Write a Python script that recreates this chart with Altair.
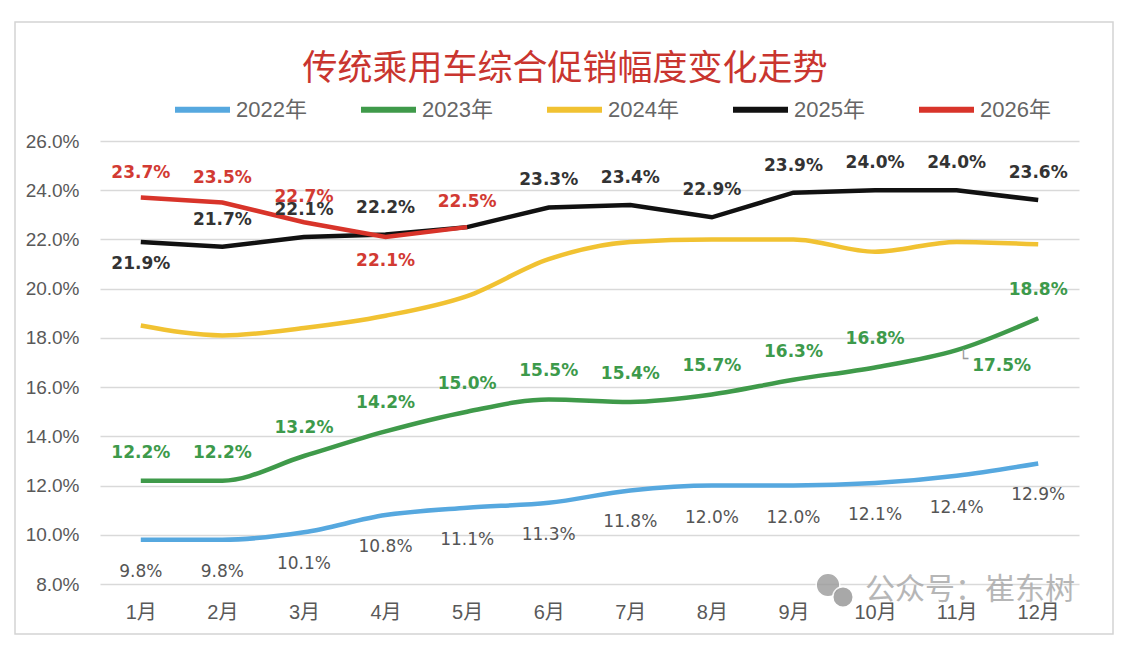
import altair as alt
import pandas as pd

months = ["1月", "2月", "3月", "4月", "5月", "6月", "7月", "8月", "9月", "10月", "11月", "12月"]
series = ["2022年", "2023年", "2024年", "2025年", "2026年"]
colors = ["#56a8df", "#3f9a4a", "#f1c232", "#111111", "#d8342a"]

v2022 = [9.8, 9.8, 10.1, 10.8, 11.1, 11.3, 11.8, 12.0, 12.0, 12.1, 12.4, 12.9]
v2023 = [12.2, 12.2, 13.2, 14.2, 15.0, 15.5, 15.4, 15.7, 16.3, 16.8, 17.5, 18.8]
v2024 = [18.5, 18.1, 18.4, 18.9, 19.7, 21.2, 21.9, 22.0, 22.0, 21.5, 21.9, 21.8]
v2025 = [21.9, 21.7, 22.1, 22.2, 22.5, 23.3, 23.4, 22.9, 23.9, 24.0, 24.0, 23.6]
v2026 = [23.7, 23.5, 22.7, 22.1, 22.5]

y_ticks = [8, 10, 12, 14, 16, 18, 20, 22, 24, 26]
title_text = "传统乘用车综合促销幅度变化走势"
watermark_text = "公众号：崔东树"

# label placement choices
below_2025 = ["1月"]
hidden_2025 = ["5月"]
below_2026 = ["4月"]
side_2023 = ["11月"]

values = {"2022年": v2022, "2023年": v2023, "2024年": v2024, "2025年": v2025, "2026年": v2026}
rows = []
for s in series:
    for m, v in zip(months, values[s]):
        rows.append({"month": m, "series": s, "value": v, "label": f"{v:.1f}%"})
df = pd.DataFrame(rows)

W, H = 979, 443

x_enc = alt.X("month:N", sort=months, scale=alt.Scale(type="point", padding=0.5),
              axis=alt.Axis(title=None, labelAngle=0, domain=False, ticks=False, grid=False,
                            labelPadding=18, labelFontSize=20, labelColor="#595959",
                            labelFont="Liberation Sans, Noto Sans CJK SC"))
y_enc = alt.Y("value:Q", scale=alt.Scale(domain=[8, 26], nice=False, zero=False),
              axis=alt.Axis(title=None, values=y_ticks, domain=False, ticks=False,
                            labelExpr="format(datum.value, '.1f') + '%'",
                            labelPadding=21, labelFontSize=19, labelColor="#595959",
                            labelFont="Liberation Sans", grid=True,
                            gridColor="#d9d9d9", gridWidth=1.5))

color_enc = alt.Color("series:N", scale=alt.Scale(domain=series, range=colors),
                      legend=alt.Legend(title=None, orient="none", legendX=72, legendY=-62,
                                        direction="horizontal", symbolType="stroke",
                                        symbolSize=3025, symbolStrokeWidth=6,
                                        labelFontSize=22, labelColor="#666666",
                                        labelFont="Liberation Sans, Noto Sans CJK SC",
                                        labelOffset=3, columnPadding=42, labelLimit=200))

def line(s, interp):
    return alt.Chart(df[df.series == s]).mark_line(strokeWidth=4.5, interpolate=interp).encode(
        x=x_enc, y=y_enc, color=color_enc)

lines = [line("2022年", "monotone"), line("2023年", "monotone"), line("2024年", "monotone"),
         line("2025年", "linear"), line("2026年", "linear")]

def labels(data, color, dy, dx=0, bold=True):
    return alt.Chart(data).mark_text(
        dy=dy, dx=dx, fontSize=17, font="DejaVu Sans", color=color,
        fontWeight="bold" if bold else "normal", baseline="middle").encode(
        x=x_enc, y=y_enc, text="label:N")

d22 = df[df.series == "2022年"]
d23 = df[df.series == "2023年"]
d25 = df[df.series == "2025年"]
d26 = df[df.series == "2026年"]

lab = [
    labels(d22, "#555555", 32, bold=False),
    labels(d23[~d23.month.isin(side_2023)], "#3d9a4b", -28),
    labels(d23[d23.month.isin(side_2023)], "#3d9a4b", 16, dx=45),
    alt.Chart(d23[d23.month.isin(side_2023)]).mark_text(
        text="└", dx=7, dy=9, fontSize=16, color="#999999", font="DejaVu Sans").encode(x=x_enc, y=y_enc),
    labels(d25[~d25.month.isin(below_2025 + hidden_2025)], "#333333", -27),
    labels(d25[d25.month.isin(below_2025)], "#333333", 22),
    labels(d26[~d26.month.isin(below_2026)], "#d23a33", -25),
    labels(d26[d26.month.isin(below_2026)], "#d23a33", 24),
]

one = pd.DataFrame({"a": [0]})
border = alt.Chart(one).mark_rect(
    fill=None, stroke="#d4d4d4", strokeWidth=1.5).encode(
    x=alt.value(-85), x2=alt.value(W + 34), y=alt.value(-119), y2=alt.value(H + 50))

title = alt.Chart(one).mark_text(
    text=title_text, fontSize=35, color="#c9352f", font="Noto Sans CJK SC",
    align="center", baseline="middle").encode(x=alt.value(465), y=alt.value(-72))

icon1 = alt.Chart(one).mark_circle(
    color="#9a9a9a", opacity=0.8, size=560, stroke="white", strokeWidth=1.5).encode(
    x=alt.value(728), y=alt.value(444))
icon2 = alt.Chart(one).mark_circle(
    color="#9a9a9a", opacity=0.85, size=420, stroke="white", strokeWidth=1.5).encode(
    x=alt.value(743), y=alt.value(456))
watermark = alt.Chart(one).mark_text(
    text=watermark_text, fontSize=30, color="#aaaaaa", opacity=0.85,
    font="Noto Sans CJK SC", align="left", baseline="middle").encode(
    x=alt.value(765), y=alt.value(449))

chart = alt.layer(border, title, *lines, icon1, icon2, watermark, *lab).properties(
    width=W, height=H,
    autosize=alt.AutoSizeParams(type="none"),
    padding={"left": 92, "top": 133, "right": 37, "bottom": 60},
    background="white",
).configure_view(stroke=None)

chart.save("out.html", embed_options={"renderer": "svg", "actions": False})
